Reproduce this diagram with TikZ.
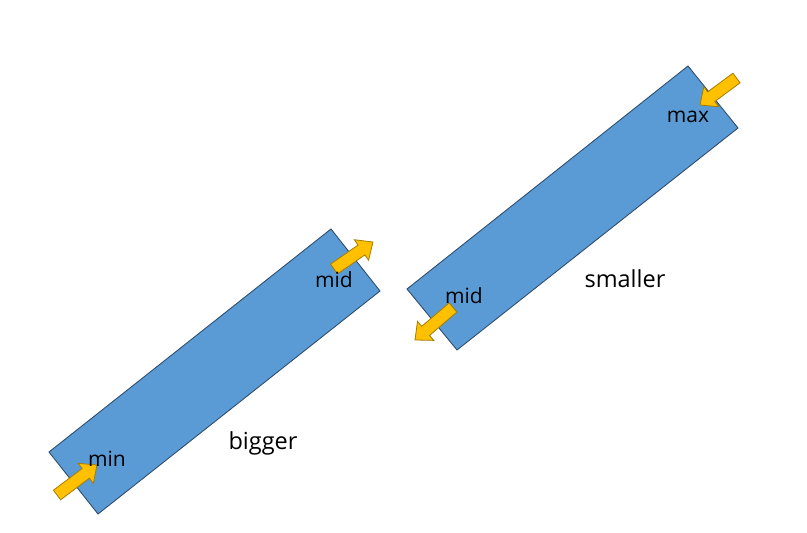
\documentclass[tikz,border=0pt]{standalone}
\usepackage{fontspec}
\setmainfont{Open Sans}
\definecolor{boxfill}{HTML}{5B9BD5}
\definecolor{boxline}{HTML}{2F4E6E}
\definecolor{arrfill}{HTML}{FFC000}
\definecolor{arrline}{HTML}{A67C00}
\tikzset{
  barbox/.style={fill=boxfill, draw=boxline, line width=0.9pt, line join=miter},
  arrowstyle/.style={fill=arrfill, draw=arrline, line width=0.8pt, line join=miter},
  pics/fatarrow/.style={code={
    \path[arrowstyle] (0,-6) -- (#1-14,-6) -- (#1-14,-12.5) -- (#1,0)
      -- (#1-14,12.5) -- (#1-14,6) -- (0,6) -- cycle;}},
  smalllabel/.style={anchor=base, inner sep=0pt, font=\fontsize{21}{25}\selectfont},
  biglabel/.style={anchor=base, inner sep=0pt, font=\fontsize{23.5}{28}\selectfont}
}
\begin{document}
\begin{tikzpicture}[x=1pt, y=-1pt]
\useasboundingbox (0,0) rectangle (807,533);
% bars
\path[barbox] (49,452) -- (98,514) -- (380,291) -- (331,229) -- cycle;
\path[barbox] (407,289) -- (457,350) -- (738,128) -- (688,66) -- cycle;
% arrows
\pic[rotate=36.9] at (57,495) {fatarrow=50};
\pic[rotate=34.7] at (334,269) {fatarrow=47.4};
\pic[rotate=220.5] at (453,307.5) {fatarrow=50};
\pic[rotate=216.5] at (736.5,78) {fatarrow=45.4};
% labels
\node[smalllabel] (min) at (107,466) {min};
\node[smalllabel] (midA) at (334,287) {mid};
\node[smalllabel] (midB) at (464,303) {mid};
\node[smalllabel] (max) at (688,122) {max};
\node[biglabel] (bigger) at (263,449) {bigger};
\node[biglabel] (smaller) at (625,287) {smaller};
\end{tikzpicture}
\end{document}
